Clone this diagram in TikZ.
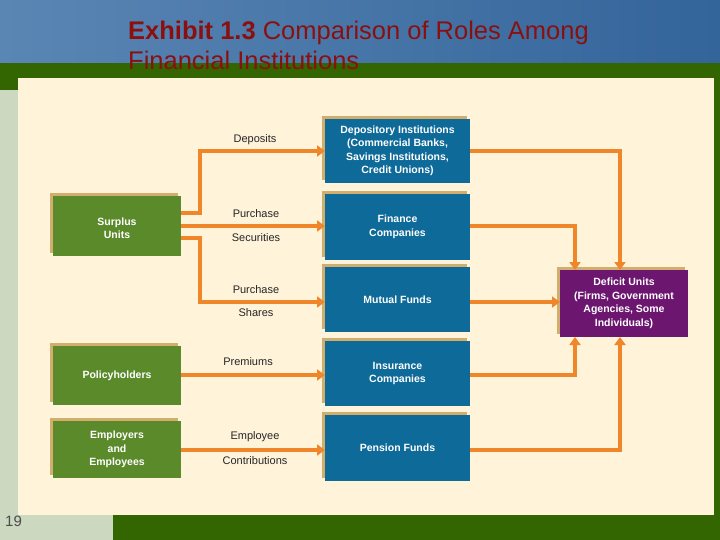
\documentclass[tikz,border=0pt]{standalone}
\usepackage{fontspec}
\setmainfont{Liberation Sans}
\usetikzlibrary{arrows.meta}
\definecolor{bluebox}{HTML}{0E6A98}
\definecolor{greenbox}{HTML}{5B8A2B}
\definecolor{purplebox}{HTML}{6C1670}
\definecolor{orangeline}{HTML}{F0862A}
\definecolor{cream}{HTML}{FFF3DA}
\definecolor{tan}{HTML}{D2AE6E}
\definecolor{band}{HTML}{336600}
\definecolor{pale}{HTML}{CCD8C0}
\definecolor{titlered}{HTML}{8A1010}
\definecolor{skyL}{HTML}{5A86B4}
\definecolor{skyR}{HTML}{33649A}
\begin{document}
\begin{tikzpicture}[x=1pt,y=-1pt,
  box/.style={draw=none,text=white,font=\bfseries\fontsize{10.5}{13.5}\selectfont,align=center,inner sep=1pt},
  flow/.style={draw=orangeline,line width=4.5pt,-{Triangle[length=8pt,width=11pt]}},
  lab/.style={font=\fontsize{11}{12}\selectfont,text=black!85}]
\useasboundingbox (0,0) rectangle (720,540);
\fill[pale] (0,0) rectangle (720,540);
\shade[left color=skyL,right color=skyR] (0,0) rectangle (720,63);
\fill[band] (0,63) rectangle (720,90);
\fill[band] (113,515) rectangle (720,540);
\fill[band] (714,78) rectangle (720,540);
\fill[cream] (18,78) rectangle (714,515);
\node[anchor=base west,text=titlered,font=\fontsize{25.5}{27}\selectfont,inner sep=0pt] (title) at (128,40) {\textbf{Exhibit 1.3} Comparison of Roles Among};
\node[anchor=base west,text=titlered,font=\fontsize{25.5}{27}\selectfont,inner sep=0pt] (title2) at (128,70) {Financial Institutions};
\node[anchor=base west,font=\fontsize{15}{16}\selectfont,text=black!70,inner sep=0pt] (pg) at (5,526) {19};
% shadows
\foreach \a/\b/\c/\d in {325/119/470/183,325/194/470/260,325/267/470/332,325/341/470/406,325/415/470/481,53/196/181/256,53/346/181/405,53/421/181/478,560/270/688/337}
  \fill[tan] (\a-3,\b-3) rectangle (\c-3,\d-3);
\fill[bluebox] (325,119) rectangle (470,183) node[midway,box] (dep) {Depository Institutions\\(Commercial Banks,\\Savings Institutions,\\Credit Unions)};
\fill[bluebox] (325,194) rectangle (470,260) node[midway,box] (fin) {Finance\\Companies};
\fill[bluebox] (325,267) rectangle (470,332) node[midway,box] (mut) {Mutual Funds};
\fill[bluebox] (325,341) rectangle (470,406) node[midway,box] (ins) {Insurance\\Companies};
\fill[bluebox] (325,415) rectangle (470,481) node[midway,box] (pen) {Pension Funds};
\fill[greenbox] (53,196) rectangle (181,256) node[midway,box,yshift=-2pt] (sur) {Surplus\\Units};
\fill[greenbox] (53,346) rectangle (181,405) node[midway,box] (pol) {Policyholders};
\fill[greenbox] (53,421) rectangle (181,478) node[midway,box] (emp) {Employers\\and\\Employees};
\fill[purplebox] (560,270) rectangle (688,337) node[midway,box] (def) {Deficit Units\\(Firms, Government\\Agencies, Some\\Individuals)};
% left flows
\draw[flow] (181,213) -- (200,213) -- (200,151) -- (325,151);
\draw[flow] (181,226) -- (325,226);
\draw[flow] (181,238) -- (200,238) -- (200,302) -- (325,302);
\draw[flow] (181,375) -- (325,375);
\draw[flow] (181,450) -- (325,450);
% right flows
\draw[flow] (470,151) -- (620,151) -- (620,270);
\draw[flow] (470,226) -- (575,226) -- (575,270);
\draw[flow] (470,302) -- (560,302);
\draw[flow] (470,375) -- (575,375) -- (575,337);
\draw[flow] (470,450) -- (620,450) -- (620,337);
% labels
\node[lab] (l1) at (255,140) {Deposits};
\node[lab] (l2) at (256,214) {Purchase};
\node[lab] (l3) at (256,238) {Securities};
\node[lab] (l4) at (256,290) {Purchase};
\node[lab] (l5) at (256,313) {Shares};
\node[lab] (l6) at (248,362) {Premiums};
\node[lab] (l7) at (255,437) {Employee};
\node[lab] (l8) at (255,461) {Contributions};
\end{tikzpicture}
\end{document}
